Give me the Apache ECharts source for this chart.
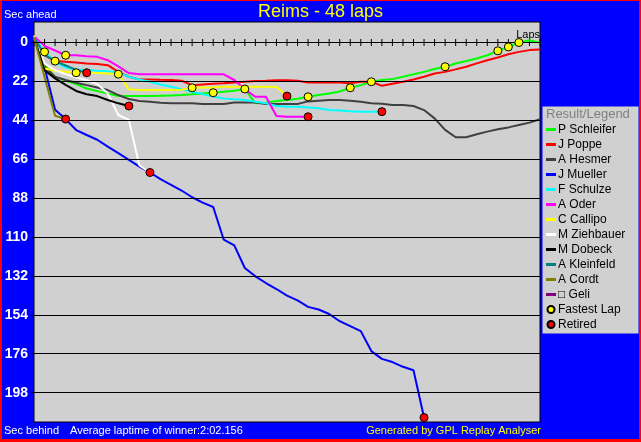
<!DOCTYPE html>
<html>
<head>
<meta charset="utf-8">
<script src="https://cdn.jsdelivr.net/npm/echarts@6/dist/echarts.min.js"></script>
<style>
html,body{margin:0;padding:0;background:#0000ff;}
#chart{width:641px;height:442px;}
</style>
</head>
<body>
<div id="chart"></div>
<script>
// ---- data (seconds behind winner's average pace, per lap) ----
const drivers = ['P Schleifer','J Poppe','A Hesmer','J Mueller','F Schulze','A Oder','C Callipo','M Ziehbauer','M Dobeck','A Kleinfeld','A Cordt','\u25A1 Geli'];
const driverColors = ['#00ff00','#ff0000','#404040','#0000ff','#00ffff','#ff00ff','#ffff00','#ffffff','#000000','#008080','#808000','#800080'];

const schleifer = [-3,12.8,19.4,21.6,23.5,26,27.5,28.8,30.3,30.3,30.3,30.3,30.1,29.9,29.7,29.3,28.8,28.4,27.8,27.3,26.3,34.4,34,33.1,32.5,31.8,30.7,29.7,28.8,27.7,25.6,24.1,22.2,21.2,20.7,19.4,17.9,16.6,15,13.7,11.9,10.5,9,7.2,4.7,2.5,0,-1.3,0.2];
const poppe = [-2,7.2,10.5,10.9,11.3,11.9,12.2,12.8,16.6,19.4,20.9,20.9,21.1,21.2,21.6,24.1,23.7,23.3,23.1,22.6,22.2,21.8,21.6,21.3,21.3,21.6,22.6,22.6,22.6,22.6,23.1,22.2,22.2,24.5,23.3,22.2,20.9,19.4,17.5,16.6,15.2,13.7,11.8,10,8.5,6.6,5.3,4.3,3.9];
const hesmer = [-3,13.7,19.4,21.2,22.8,24.1,25.4,26.9,29.7,32,33.1,33.5,34,34.4,34.4,34.4,34.8,34.8,34.8,33.9,33.9,33.9,34.8,34.8,34.8,34.8,33.3,32.9,32.5,32.5,32.9,33.5,34.4,34.6,35.3,35.3,35.9,38.2,42.9,49.4,53.6,53.6,51.9,50.4,49.1,48,46.6,45.3,43.4];
const mueller = [-3,14,38,43.3,49.5,52.3,55,58.9,62.6,66.4,70.2,73.5,77.3,80.5,83.7,87.5,90.5,93,111.5,114.7,127.5,132.2,136,139.4,143.1,145.8,149.5,151,153.5,157.6,160.4,163.2,174.5,178.9,180.7,183.4,185.3,212.1];
const schulze = [-3,5.3,10.9,14.1,15.2,15.6,16,16.2,16.9,19.4,20.9,22.2,23.7,25,26.5,27.8,29.2,30.6,31.6,32.1,32.5,33.5,34.4,35.9,36.3,36.3,36.7,37.2,38.2,38.5,38.9,39.1,39.1,39.1];
const oder = [-3.5,1.9,4.5,7.2,7.2,7.7,8.1,10,13.5,17.3,18,18,18,18,18,18,18,18,18,21.2,26.5,30.7,30.7,41.6,42,42,42];
const callipo = [-4,14.7,16,16.5,17.1,17.1,17.3,17.5,17.9,26.5,26.9,26.9,26.9,26.9,26.7,25.6,25.4,25.4,25,25,25,25,25,25.2,30.3];
const ziehbauer = [-3,11.8,15.6,17.9,19.7,21.3,23.5,28.8,41,43.8,69.5,73.5];
const dobeck = [-3,15.6,20.3,24,27.4,29.3,30.3,32.5,34.4,35.9];
const kleinfeld = [-3,7,10.5,13,15.5,17.1];
const cordt = [-3,19.5,41.4,43.3];
const geli = [];

const driverData = [schleifer,poppe,hesmer,mueller,schulze,oder,callipo,ziehbauer,dobeck,kleinfeld,cordt,geli];

// fastest lap markers: [driver, lap]
const fastestLaps = [['F Schulze',1],['J Poppe',2],['A Oder',3],['C Callipo',4],['C Callipo',8],['C Callipo',15],
  ['P Schleifer',17],['P Schleifer',20],['P Schleifer',26],['P Schleifer',30],['P Schleifer',32],
  ['P Schleifer',39],['P Schleifer',44],['P Schleifer',45],['P Schleifer',46]];

const totalLaps = 48;
const yTicks = [0,22,44,66,88,110,132,154,176,198];

// ---- build ----
const FONT = '"Liberation Sans", Arial, sans-serif';
const toPairs = arr => arr.map((v,i)=>[i,v]);
const LINE_ICON = 'path://M0,0H10V0.01H0ZM0,2H10V5H0ZM0,6.99H10V7H0Z';

const lineSeries = drivers.map((name,k)=>({
  name: name,
  type: 'line',
  data: toPairs(driverData[k]),
  symbol: 'none',
  lineStyle: {width: 2, color: driverColors[k]},
  itemStyle: {color: driverColors[k]},
  z: 3
}));

const fastestData = fastestLaps.map(([n,lap])=>[lap, driverData[drivers.indexOf(n)][lap]]);
const retiredData = driverData.filter(d=>d.length>0 && d.length<=totalLaps).map(d=>[d.length-1, d[d.length-1]]);
const lapTicks = Array.from({length: totalLaps+1}, (_,i)=>[i, 0]);

const gridSeries = {
  name: 'grid', type: 'line', data: [], z: 1, silent: true,
  markLine: {silent: true, symbol: 'none', label: {show: false}, animation: false,
    lineStyle: {color: '#000', width: 1, type: 'solid'},
    data: yTicks.map(v=>({yAxis: v}))}
};

const tickSeries = {
  name: 'lapTicks', type: 'scatter', data: lapTicks, symbol: 'rect', symbolSize: [1, 7],
  itemStyle: {color: '#000', opacity: 1}, z: 2, silent: true
};

const option = {
  animation: false,
  backgroundColor: '#0000ff',
  title: [
    {text: 'Reims - 48 laps', left: 'center', top: 3, padding: 0, textStyle: {color: '#ffff00', fontSize: 18, fontWeight: 'normal', fontFamily: FONT}},
    {text: 'Sec ahead', left: 4, top: 9, padding: 0, textStyle: {color: '#ffffff', fontSize: 11, fontWeight: 'normal', fontFamily: FONT}},
    {text: 'Sec behind', left: 4, top: 425, padding: 0, textStyle: {color: '#ffffff', fontSize: 11, fontWeight: 'normal', fontFamily: FONT}},
    {text: 'Average laptime of winner:2:02.156', left: 70, top: 425, padding: 0, textStyle: {color: '#ffffff', fontSize: 11, fontWeight: 'normal', fontFamily: FONT}},
    {text: 'Generated by GPL Replay Analyser', right: 100, top: 425, padding: 0, textStyle: {color: '#ffff00', fontSize: 11, fontWeight: 'normal', fontFamily: FONT}},
    {text: 'Result/Legend', left: 546, top: 108, padding: 0, textStyle: {color: '#808080', fontSize: 13, fontWeight: 'normal', fontFamily: FONT}}
  ],
  graphic: [
    {type: 'rect', shape: {x: 542.5, y: 106.5, width: 96, height: 227}, style: {fill: '#d0d0d0'}, z: -1, silent: true},
    {type: 'rect', shape: {x: 0, y: 0, width: 641, height: 1}, style: {fill: '#ff0000'}, z: 100, silent: true},
    {type: 'rect', shape: {x: 0, y: 0, width: 2, height: 442}, style: {fill: '#ff0000'}, z: 100, silent: true},
    {type: 'rect', shape: {x: 639, y: 0, width: 2, height: 442}, style: {fill: '#ff0000'}, z: 100, silent: true},
    {type: 'rect', shape: {x: 0, y: 439, width: 641, height: 3}, style: {fill: '#ff0000'}, z: 100, silent: true}
  ],
  legend: {
    orient: 'vertical', left: 546, top: 122, padding: 0,
    itemWidth: 10, itemHeight: 7, itemGap: 0,
    selectedMode: false,
    textStyle: {color: '#000', fontSize: 12, lineHeight: 15, fontFamily: FONT, padding: [0,0,0,-3]},
    data: drivers.map(n=>({name: n, icon: LINE_ICON})).concat([{name: 'Fastest Lap', icon: 'circle'}, {name: 'Retired', icon: 'circle'}])
  },
  grid: {left: 34, top: 22, width: 506, height: 400, show: true, backgroundColor: '#d0d0d0', borderColor: '#000', borderWidth: 1},
  xAxis: {
    type: 'value', min: 0, max: totalLaps, interval: 1,
    axisLine: {show: false, onZero: true},
    axisTick: {show: false},
    axisLabel: {show: false}, splitLine: {show: false},
    name: 'Laps', nameLocation: 'end', nameGap: 0,
    nameTextStyle: {color: '#000', fontSize: 11, fontFamily: FONT, align: 'right', verticalAlign: 'bottom', padding: [0,0,2,0]}
  },
  yAxis: {
    type: 'value', inverse: true, min: -11.6, max: 214.6,
    axisLine: {show: false},
    axisTick: {show: true, length: 3, customValues: yTicks, lineStyle: {color: '#000'}},
    axisLabel: {customValues: yTicks, color: '#ffffff', fontSize: 14, fontWeight: 'bold', fontFamily: FONT, margin: 6},
    splitLine: {show: false}
  },
  series: [gridSeries, tickSeries].concat(lineSeries).concat([
    {name: 'Fastest Lap', type: 'scatter', data: fastestData, symbol: 'circle', symbolSize: 8, z: 5,
     itemStyle: {color: '#ffff00', borderColor: '#000', borderWidth: 1, opacity: 1}},
    {name: 'Retired', type: 'scatter', data: retiredData, symbol: 'circle', symbolSize: 8, z: 5,
     itemStyle: {color: '#ff0000', borderColor: '#000', borderWidth: 1, opacity: 1}}
  ])
};

const chart = echarts.init(document.getElementById('chart'), null, {renderer: 'canvas'});
chart.setOption(option);
</script>
</body>
</html>
